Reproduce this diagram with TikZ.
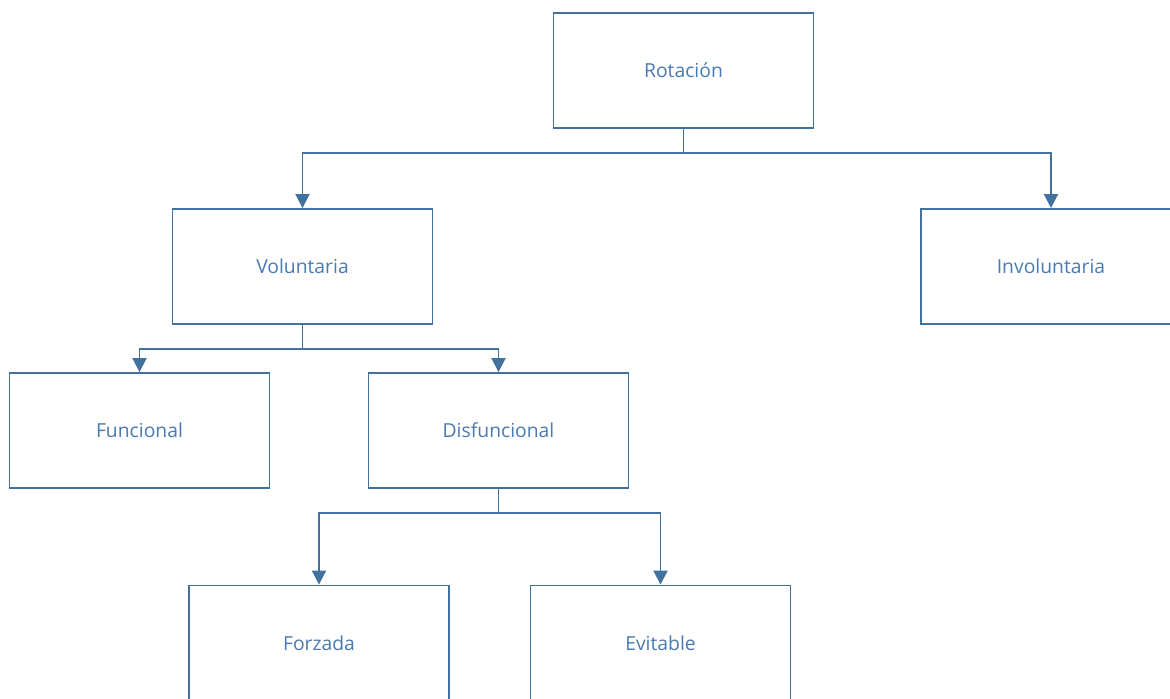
\documentclass[tikz,border=0pt]{standalone}
\usepackage{fontspec}
\setmainfont{Open Sans}
\usepackage{xcolor}
\usepackage{tikz}
\usetikzlibrary{positioning,arrows.meta}
\definecolor{linecol}{RGB}{65,113,156}
\definecolor{textcol}{RGB}{74,122,178}

\begin{document}
\begin{tikzpicture}[x=0.02cm, y=-0.02cm, font=\fontsize{11}{13}\selectfont]
  \tikzstyle{box}=[rectangle,draw=linecol,fill=white,line width=1.1pt,
                   text=textcol,minimum width=5.2cm,minimum height=2.3cm,
                   inner sep=0pt,align=center]
  \tikzstyle{arr}=[-{Triangle[width=8pt,length=8pt]},line width=1.1pt,color=linecol]
  \clip (0,0) rectangle (1170,698);
  \node[box](rot) at (683.5,70.5){Rotación};
  \node[box](vol) at (302.5,266.5){Voluntaria};
  \node[box](invol) at (1051,266.5){Involuntaria};
  \node[box](func) at (139.5,430.5){Funcional};
  \node[box](disf) at (498.5,430.5){Disfuncional};
  \node[box](forz) at (319,643){Forzada};
  \node[box](evit) at (660.5,643){Evitable};
  \draw[arr](rot.south)--++(0,24)-|(vol.north);
  \draw[arr](rot.south)--++(0,24)-|(invol.north);
  \draw[arr](vol.south)--++(0,24)-|(func.north);
  \draw[arr](vol.south)--++(0,24)-|(disf.north);
  \draw[arr](disf.south)--++(0,24)-|(forz.north);
  \draw[arr](disf.south)--++(0,24)-|(evit.north);
\end{tikzpicture}
\end{document}
